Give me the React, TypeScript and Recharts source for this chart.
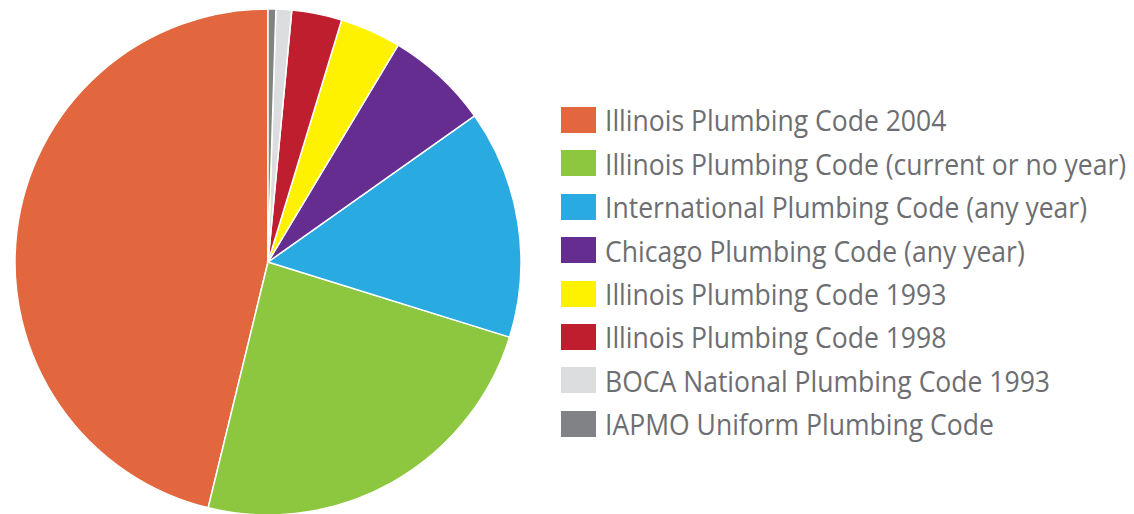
import React from 'react';
import { PieChart, Pie, Cell, Legend } from 'recharts';

const categories: string[] = [
  'Illinois Plumbing Code 2004',
  'Illinois Plumbing Code (current or no year)',
  'International Plumbing Code (any year)',
  'Chicago Plumbing Code (any year)',
  'Illinois Plumbing Code 1993',
  'Illinois Plumbing Code 1998',
  'BOCA National Plumbing Code 1993',
  'IAPMO Uniform Plumbing Code',
];

const shares: number[] = [46.2, 24.0, 14.6, 6.6, 3.9, 3.2, 1.0, 0.5];

const colors: string[] = [
  '#E2673F',
  '#8DC63F',
  '#29AAE1',
  '#662D91',
  '#FFF200',
  '#BE1E2D',
  '#DCDDDE',
  '#808285',
];

const data = categories.map((name, i) => ({ name, value: shares[i] }));

const renderLegend = () => (
  <div style={{ display: 'flex', flexDirection: 'column' }}>
    {categories.map((name, i) => (
      <div
        key={name}
        style={{ display: 'flex', alignItems: 'center', height: 43.4 }}
      >
        <div
          style={{
            width: 35,
            height: 26,
            background: colors[i],
            flex: '0 0 auto',
          }}
        />
        <span
          style={{
            display: 'inline-block',
            marginLeft: 9,
            fontFamily: '"Open Sans", sans-serif',
            fontSize: 29,
            color: '#6D6E71',
            whiteSpace: 'nowrap',
            transform: 'scaleX(0.915)',
            transformOrigin: 'left center',
          }}
        >
          {name}
        </span>
      </div>
    ))}
  </div>
);

export default function App() {
  return (
    <div style={{ position: 'absolute', left: 0, top: 0, width: 1134, height: 514, background: '#fff' }}>
      <PieChart width={1134} height={514} margin={{ top: 0, right: 0, bottom: 0, left: 0 }}>
        <Pie
          data={data}
          dataKey="value"
          nameKey="name"
          cx={268}
          cy={262}
          outerRadius={253}
          startAngle={90}
          endAngle={450}
          stroke="#ffffff"
          strokeWidth={1.5}
          isAnimationActive={false}
        >
          {data.map((d, i) => (
            <Cell key={d.name} fill={colors[i]} />
          ))}
        </Pie>
        <Legend
          content={renderLegend}
          layout="vertical"
          wrapperStyle={{ position: 'absolute', left: 561, top: 98.3, width: 570 }}
        />
      </PieChart>
    </div>
  );
}
